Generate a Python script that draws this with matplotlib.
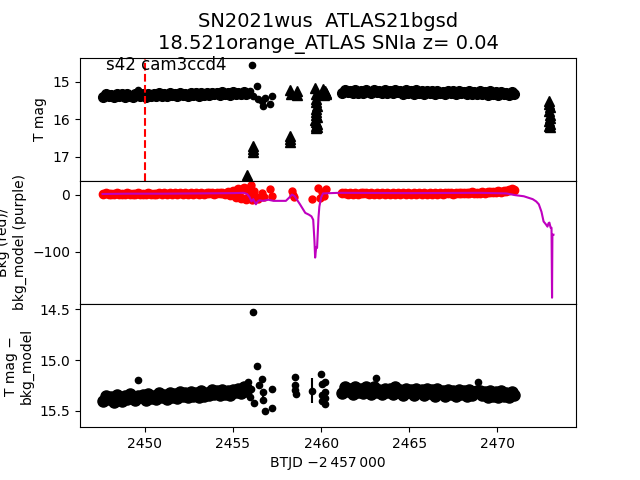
import matplotlib
matplotlib.use('Agg')
import matplotlib.pyplot as plt

# Curva de luz TESS, tiempos en BTJD - 2457000
# primer tramo de la orbita
t_a = [2447.65, 2447.80, 2447.95, 2448.10, 2448.25, 2448.40, 2448.55, 2448.70, 2448.85, 2449.00,
       2449.15, 2449.30, 2449.45, 2449.60, 2449.75, 2449.90, 2450.05, 2450.20, 2450.35, 2450.50,
       2450.65, 2450.80, 2450.95, 2451.10, 2451.25, 2451.40, 2451.55, 2451.70, 2451.85, 2452.00,
       2452.15, 2452.30, 2452.45, 2452.60, 2452.75, 2452.90, 2453.05, 2453.20, 2453.35, 2453.50,
       2453.65, 2453.80, 2453.95, 2454.10, 2454.25, 2454.40, 2454.55, 2454.70, 2454.85, 2455.00,
       2455.15, 2455.30, 2455.45, 2455.60, 2455.75]
mag_a = [15.42, 15.33, 15.38, 15.35, 15.41, 15.32, 15.39, 15.34, 15.40, 15.33,
         15.38, 15.41, 15.32, 15.36, 15.39, 15.33, 15.40, 15.32, 15.37, 15.34,
         15.39, 15.31, 15.37, 15.33, 15.39, 15.31, 15.36, 15.33, 15.38, 15.30,
         15.36, 15.32, 15.38, 15.30, 15.35, 15.31, 15.37, 15.29, 15.35, 15.31,
         15.36, 15.29, 15.34, 15.30, 15.36, 15.28, 15.33, 15.30, 15.35, 15.28,
         15.33, 15.29, 15.34, 15.27, 15.32]
bkg_a = [0.8, 1.9, 0.4, 1.5, 0.9, 2.1, 0.6, 1.7, 1.0, 2.2,
         0.7, 1.6, 1.2, 2.3, 0.8, 1.8, 1.1, 2.4, 0.9, 1.7,
         1.3, 2.5, 1.0, 1.9, 1.4, 2.6, 1.1, 2.0, 1.5, 2.7,
         1.2, 2.2, 1.6, 2.8, 1.3, 2.3, 1.7, 2.9, 1.5, 2.4,
         1.9, 3.1, 1.6, 2.6, 2.1, 3.3, 1.8, 4.8, -1.0, 6.0,
         -4.0, 9.0, -6.0, 11.0, -8.0]
dmag_a = [15.40, 15.35, 15.38, 15.36, 15.41, 15.34, 15.38, 15.40, 15.35, 15.38,
          15.33, 15.37, 15.39, 15.35, 15.36, 15.34, 15.39, 15.33, 15.37, 15.35,
          15.38, 15.32, 15.36, 15.34, 15.38, 15.32, 15.36, 15.33, 15.37, 15.31,
          15.35, 15.32, 15.36, 15.31, 15.35, 15.32, 15.36, 15.30, 15.35, 15.32,
          15.34, 15.29, 15.33, 15.30, 15.34, 15.29, 15.33, 15.30, 15.34, 15.29,
          15.31, 15.28, 15.32, 15.27, 15.30]

# segundo tramo
t_b = [2461.20, 2461.35, 2461.50, 2461.65, 2461.80, 2461.95, 2462.10, 2462.25, 2462.40, 2462.55,
       2462.70, 2462.85, 2463.00, 2463.15, 2463.30, 2463.45, 2463.60, 2463.75, 2463.90, 2464.05,
       2464.20, 2464.35, 2464.50, 2464.65, 2464.80, 2464.95, 2465.10, 2465.25, 2465.40, 2465.55,
       2465.70, 2465.85, 2466.00, 2466.15, 2466.30, 2466.45, 2466.60, 2466.75, 2466.90, 2467.05,
       2467.20, 2467.35, 2467.50, 2467.65, 2467.80, 2467.95, 2468.10, 2468.25, 2468.40, 2468.55,
       2468.70, 2468.85, 2469.00, 2469.15, 2469.30, 2469.45, 2469.60, 2469.75, 2469.90, 2470.05,
       2470.20, 2470.35, 2470.50, 2470.65, 2470.80, 2470.95]
mag_b = [15.30, 15.23, 15.28, 15.25, 15.31, 15.22, 15.29, 15.24, 15.30, 15.23,
         15.27, 15.31, 15.21, 15.28, 15.25, 15.31, 15.23, 15.29, 15.24, 15.31,
         15.22, 15.28, 15.25, 15.32, 15.23, 15.29, 15.25, 15.32, 15.23, 15.29,
         15.26, 15.32, 15.24, 15.30, 15.25, 15.33, 15.24, 15.30, 15.27, 15.33,
         15.24, 15.31, 15.26, 15.34, 15.25, 15.31, 15.27, 15.34, 15.25, 15.32,
         15.27, 15.34, 15.26, 15.32, 15.28, 15.35, 15.26, 15.33, 15.28, 15.35,
         15.27, 15.33, 15.29, 15.35, 15.28, 15.32]
bkg_b = [2.0, 3.1, 1.5, 2.6, 1.8, 3.0, 1.4, 2.5, 1.9, 2.9,
         1.3, 2.4, 1.7, 2.8, 1.2, 2.3, 1.8, 2.9, 1.4, 2.5,
         1.6, 2.7, 1.1, 2.2, 1.7, 2.8, 1.3, 2.4, 1.6, 2.6,
         1.2, 2.3, 1.7, 2.9, 1.4, 2.5, 1.8, 3.0, 1.5, 2.6,
         2.0, 3.2, 1.7, 2.8, 2.2, 3.4, 1.9, 3.1, 2.4, 3.6,
         2.2, 3.5, 2.8, 4.0, 3.1, 4.4, 3.6, 5.0, 4.2, 5.6,
         5.1, 6.8, 6.2, 8.4, 9.1, 8.0]
dmag_b = [15.32, 15.27, 15.30, 15.28, 15.33, 15.27, 15.31, 15.28, 15.32, 15.27,
          15.30, 15.33, 15.27, 15.31, 15.29, 15.33, 15.28, 15.31, 15.28, 15.33,
          15.27, 15.31, 15.29, 15.34, 15.28, 15.31, 15.29, 15.34, 15.28, 15.31,
          15.29, 15.34, 15.28, 15.32, 15.29, 15.35, 15.28, 15.32, 15.30, 15.35,
          15.29, 15.33, 15.30, 15.35, 15.29, 15.33, 15.30, 15.35, 15.29, 15.34,
          15.31, 15.30, 15.30, 15.34, 15.31, 15.36, 15.30, 15.35, 15.31, 15.36,
          15.30, 15.35, 15.32, 15.36, 15.31, 15.34]
band_err = 0.015

# puntos aislados fuera de la banda
out_t = [2449.60]
out_mag = [15.23]
dout_t = [2449.60, 2463.10, 2468.90]
dout_mag = [15.20, 15.18, 15.22]

# zona del hueco (puntos sueltos)
dip_t = [2455.90, 2455.97, 2456.06, 2456.15, 2456.35, 2456.44, 2456.63, 2456.72, 2456.82, 2457.10, 2457.20]
dip_mag = [15.32, 15.26, 14.55, 15.39, 15.12, 15.47, 15.52, 15.64, 15.43, 15.60, 15.39]

# limites superiores (triangulos)
lim_t = [2455.78, 2456.12, 2456.14, 2456.16,
         2458.22, 2458.24, 2458.26, 2458.21, 2458.27, 2458.62, 2458.65,
         2459.68, 2459.70, 2459.72, 2459.69, 2459.74, 2459.71, 2459.73, 2459.70,
         2459.75, 2459.68, 2459.72, 2459.76, 2459.70, 2459.74, 2459.72,
         2460.10, 2460.16, 2460.22, 2460.28, 2460.14, 2460.25,
         2472.93, 2472.95, 2472.97, 2472.94, 2472.96, 2472.98, 2472.95, 2472.97, 2472.94, 2472.96]
lim_mag = [17.48, 16.72, 16.80, 16.88,
           16.45, 16.53, 16.62, 15.22, 15.32, 15.25, 15.35,
           15.18, 15.32, 15.45, 15.55, 15.64, 15.72, 15.80, 15.88,
           15.95, 16.02, 16.08, 16.12, 16.17, 16.21, 16.24,
           15.20, 15.28, 15.24, 15.33, 15.36, 15.30,
           15.52, 15.60, 15.68, 15.78, 15.88, 15.97, 16.05, 16.12, 16.18, 16.22]

# fondo en el hueco
bdip_t = [2455.85, 2455.90, 2455.95, 2456.00, 2456.05, 2456.10, 2456.20, 2456.30, 2456.40, 2456.65, 2456.75,
          2457.10, 2457.20, 2458.35, 2458.40, 2458.45, 2459.50, 2459.85, 2459.95, 2460.05, 2460.15, 2460.25]
bdip_val = [-5, 8, 14, 16, 3, -10, 6, -4, -8, 2, -5,
            10, -3, 7, 0, -5, -7, 12, -6, 5, -2, 9]

# modelo de fondo (linea morada)
model_t = [2447.60, 2449.00, 2451.00, 2453.00, 2455.00, 2455.60, 2455.80, 2455.95, 2456.05, 2456.15,
           2456.30, 2456.40, 2456.50, 2456.70, 2457.00, 2457.30, 2458.00, 2458.20, 2458.35, 2458.50,
           2458.80, 2459.10, 2459.30, 2459.45, 2459.55, 2459.62, 2459.66, 2459.72, 2459.77, 2459.85,
           2459.90, 2460.00, 2460.11, 2461.00, 2465.00, 2469.00, 2470.50, 2471.00, 2471.50, 2472.00,
           2472.20, 2472.35, 2472.50, 2472.62, 2472.75, 2472.84, 2472.90, 2472.95, 2473.02, 2473.07,
           2473.10, 2473.12, 2473.18]
model_val = [1, 1.5, 1.5, 2, 2.5, 3, 1, -5, -12, -8,
             -17, -12, -10, -11, -9, -11, -11, -5, 0, -3,
             -17, -32, -35, -38, -44, -80, -110, -92, -93, -40,
             -21, -5, 2, 3, 2.5, 3, 2, -1, -3, -8,
             -12, -17, -30, -47, -52, -56, -50, -49, -58, -58,
             -180, -70, -70]

# mag - modelo en el hueco
ddip_t = [2455.85, 2455.95, 2456.05, 2456.12, 2456.20, 2456.35, 2456.45, 2456.63, 2456.70, 2456.72,
          2456.82, 2457.20, 2457.22, 2458.50, 2458.52, 2458.55, 2458.50, 2459.47, 2460.02, 2460.04,
          2460.06, 2460.05, 2460.20, 2460.22, 2460.24, 2460.21]
ddip_mag = [15.22, 15.36, 15.28, 14.53, 15.42, 15.06, 15.25, 15.19, 15.31, 15.39,
            15.50, 15.28, 15.47, 15.17, 15.25, 15.33, 15.29, 15.30, 15.14, 15.24,
            15.34, 15.40, 15.22, 15.31, 15.43, 15.37]
ddip_err = [0.02, 0.02, 0.03, 0.01, 0.03, 0.02, 0.03, 0.02, 0.03, 0.04,
            0.03, 0.02, 0.02, 0.02, 0.02, 0.02, 0.03, 0.12, 0.03, 0.03,
            0.03, 0.04, 0.03, 0.03, 0.04, 0.03]

fig, (ax1, ax2, ax3) = plt.subplots(3, 1, sharex=True, figsize=(6.4, 4.8), dpi=100)
plt.subplots_adjust(hspace=0)

# panel superior: magnitud
ax1.plot(t_a, mag_a, 'ko', ms=7)
ax1.plot(t_b, mag_b, 'ko', ms=7)
ax1.plot(out_t, out_mag, 'ko', ms=4.5)
ax1.plot(dip_t, dip_mag, 'ko', ms=4.5)
ax1.plot(lim_t, lim_mag, 'k^', ms=7)
ax1.axvline(2450.0, color='r', ls='--', lw=1.5)
ax1.text(2447.8, 14.68, 's42 cam3ccd4', fontsize=12)
ax1.set_ylim(17.64, 14.36)
ax1.set_yticks([15, 16, 17])
ax1.set_ylabel('T mag')
ax1.set_title('SN2021wus  ATLAS21bgsd\n18.521orange_ATLAS SNIa z= 0.04', fontsize=14)

# panel medio: fondo
ax2.plot(t_a, bkg_a, 'ro', ms=6)
ax2.plot(t_b, bkg_b, 'ro', ms=6)
ax2.plot(bdip_t, bdip_val, 'ro', ms=5)
ax2.plot(model_t, model_val, 'm-', lw=1.5)
ax2.set_ylim(-191, 24)
ax2.set_yticks([0, -100])
ax2.set_ylabel('Bkg (red)/\nbkg_model (purple)')

# panel inferior: mag - modelo
ax3.errorbar(t_a, dmag_a, yerr=band_err, fmt='ko', ms=8)
ax3.errorbar(t_b, dmag_b, yerr=band_err, fmt='ko', ms=8)
ax3.errorbar(dout_t, dout_mag, yerr=band_err, fmt='ko', ms=4.5)
ax3.errorbar(ddip_t, ddip_mag, yerr=ddip_err, fmt='ko', ms=4.5)
ax3.set_ylim(15.66, 14.45)
ax3.set_yticks([14.5, 15.0, 15.5])
ax3.set_ylabel('T mag \u2212\nbkg_model')
ax3.set_xticks([2450, 2455, 2460, 2465, 2470])
ax3.set_xlabel('BTJD \u22122\u2009457\u2009000')

plt.savefig('out.png', dpi=100)
